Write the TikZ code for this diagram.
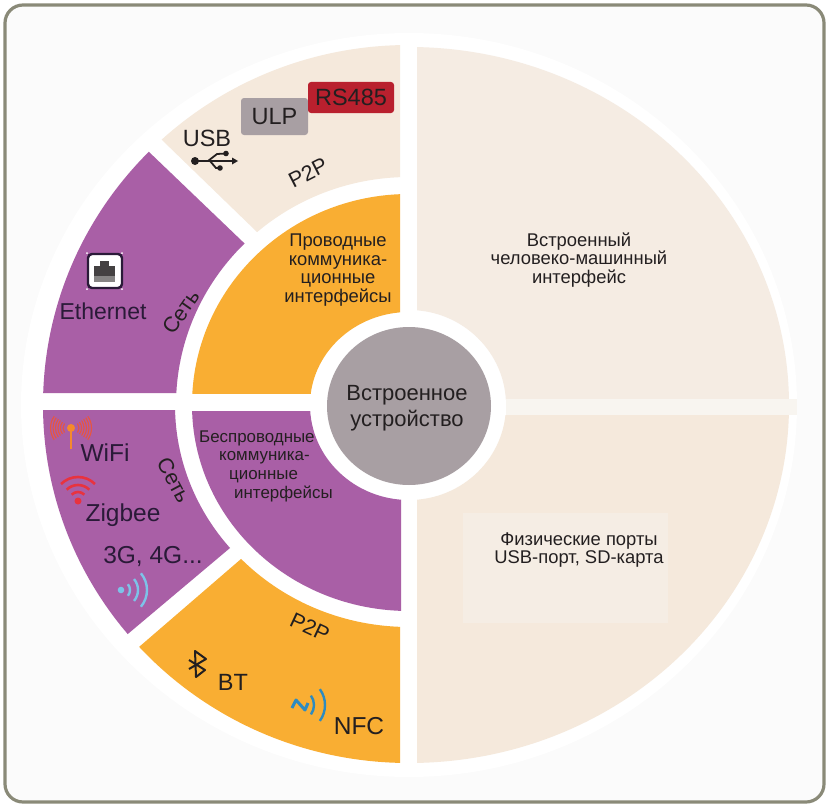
\documentclass[tikz,border=0pt]{standalone}
\usepackage{fontspec}
\setmainfont{Liberation Sans}
\definecolor{cpanel}{HTML}{FBFBFB}
\definecolor{cborder}{HTML}{8A8A78}
\definecolor{cbeige}{HTML}{F5E9DC}
\definecolor{cbeigelight}{HTML}{F5ECE3}
\definecolor{cboxlight}{HTML}{F5EDE4}
\definecolor{cgap}{HTML}{F8F5F0}
\definecolor{cpurple}{HTML}{A95FA6}
\definecolor{corange}{HTML}{F9AE33}
\definecolor{cgrey}{HTML}{A89FA3}
\definecolor{cred}{HTML}{B9202E}
\definecolor{cink}{HTML}{231F20}
\definecolor{cinkpurple}{HTML}{2A1A38}
\definecolor{cantenna}{HTML}{F58A2C}
\definecolor{cearred}{HTML}{E8553F}
\definecolor{czigbee}{HTML}{E8333F}
\definecolor{csky}{HTML}{7DC3E8}
\definecolor{cnfc}{HTML}{2E8BC0}
\tikzset{
  label18/.style={font=\fontsize{18.4}{18.5}\selectfont, align=center, text=cink, inner sep=0pt},
  label16/.style={font=\fontsize{16.9}{18.7}\selectfont, align=left, text=cink, inner sep=0pt},
  label22/.style={font=\fontsize{22}{26}\selectfont, align=center, text=cink, inner sep=0pt},
  label23/.style={font=\fontsize{23.5}{26}\selectfont, text=cink, inner sep=0pt},
  slanted/.style={font=\fontsize{21.5}{24}\selectfont, text=cink, inner sep=0pt},
  netlabel/.style={font=\fontsize{24.5}{26}\selectfont, text=cinkpurple, inner sep=0pt},
  tagbox/.style={rounded corners=3pt, inner sep=0pt, font=\fontsize{23.5}{26}\selectfont, text=cink},
}
% one piece of a ring, cut out by a polygon
\newcommand{\ringpart}[6]{%
  \begin{scope}
    \clip #6;
    \fill[#1, even odd rule] (409,405) ellipse [x radius=#2pt, y radius=#3pt]
      (409,405) ellipse [x radius=#4pt, y radius=#5pt];
  \end{scope}}

\begin{document}
\begin{tikzpicture}[x=1pt, y=-1pt]
  \useasboundingbox (0,0) rectangle (830,808);
  % panel and white disc
  \draw[draw=cborder, fill=cpanel, line width=3.2pt, rounded corners=18pt] (5,5) rectangle (824,802);
  \fill[white] (409,405) ellipse [x radius=388pt, y radius=372pt];
  % right half
  \ringpart{cbeigelight}{380}{358}{97}{95}{(417,40) rectangle (800,399)}
  \ringpart{cbeige}{380}{358}{97}{95}{(417,415) rectangle (800,770)}
  \fill[cgap] (506,399) rectangle (797,415);
  \node[fill=cboxlight, minimum width=205pt, minimum height=110pt, inner sep=0pt] (portbox) at (565.5,568) {};
  % outer ring, left half
  \ringpart{cbeige}{366}{360}{233}{228}{(100,100) -- (162,140) -- (257,232) -- (330,300) -- (400,300) -- (400,30) -- (100,30) -- cycle}
  \ringpart{cpurple}{366}{360}{233}{228}{(100,105) -- (30,105) -- (30,393) -- (290,393) -- (290,287) -- cycle}
  \ringpart{cpurple}{366}{358}{234}{222}{(30,410) -- (30,720) -- (40,709) -- (129,633) -- (230,548) -- (300,490) -- (300,410) -- cycle}
  \ringpart{corange}{366}{358}{233}{222}{(50,722) -- (139,647) -- (241,559) -- (300,510) -- (400,510) -- (400,780) -- (50,780) -- cycle}
  % middle ring, left half
  \ringpart{corange}{217}{211}{99}{93}{(180,180) rectangle (400,393)}
  \ringpart{cpurple}{217}{206}{99}{95}{(180,411) rectangle (401,620)}
  % centre
  \fill[cgrey] (409,406) ellipse [x radius=82pt, y radius=79pt];
  \node[label22] (device) at (407,408) {Встроенное\\устройство};
  % labels on the right
  \node[label18] (hmi) at (579,260) {Встроенный\\человеко-машинный\\интерфейс};
  \node[label18] (ports) at (579,550) {Физические порты\\USB-порт, SD-карта};
  % middle ring labels
  \node[label18] (wired) at (338,270) {Проводные\\коммуника-\\ционные\\интерфейсы};
  \node[label16, anchor=west] (wireless) at (199,466) {Беспроводные\\\hspace*{20pt}коммуника-\\\hspace*{30pt}ционные\\\hspace*{35pt}интерфейсы};
  % wired group
  \node[tagbox, fill=cgrey, minimum width=67pt, minimum height=37pt] (ulp) at (274.5,116.5) {ULP};
  \node[tagbox, fill=cred, minimum width=86pt, minimum height=31pt] (rs) at (351,97.5) {RS485};
  \node[label23] (usb) at (207,138) {USB};
  \node[slanted, rotate=27] (ptop) at (308,173) {P2P};
  \node[slanted, rotate=55] (nettop) at (181,312) {Сеть};
  \node[netlabel, font=\fontsize{23}{26}\selectfont] (ethernet) at (103,311) {Ethernet};
  % wireless group
  \node[netlabel] (wifi) at (105,453) {WiFi};
  \node[netlabel] (zigbee) at (123,515) {Zigbee};
  \node[netlabel] (cell) at (153,557) {3G, 4G...};
  \node[slanted, rotate=-62] (netlow) at (174,480) {Сеть};
  \node[slanted, rotate=-25] (plow) at (310,627) {P2P};
  \node[label23] (bt) at (233,682) {BT};
  \node[label23, font=\fontsize{24.5}{26}\selectfont] (nfc) at (359,726) {NFC};
  % usb symbol
  \begin{scope}[cink, line width=1.8pt]
    \fill (195,161) circle [radius=4pt];
    \draw (195,161) -- (232,161);
    \fill (232,157.5) -- (238,161) -- (232,164.5) -- cycle;
    \draw (208,161) -- (217,154) -- (226,153.5);
    \fill (226,153.5) circle [radius=2.8pt];
    \draw (210,161) -- (216,168) -- (220,168);
    \fill (220,168) circle [radius=2.8pt];
  \end{scope}
  % ethernet socket
  \draw[draw=cinkpurple, fill=white, line width=2.4pt, rounded corners=4pt] (88,254) rectangle (122,288);
  \fill[cink!85] (94,266) rectangle (115,276);
  \fill[cink!85] (100,261) rectangle (109,266);
  \fill[cink!55] (94,276) rectangle (115,282);
  \foreach \cx/\cy in {87/253, 122/253, 87/289, 122/289}
    \fill[white] (\cx,\cy) circle [radius=1pt];
  % wifi antenna
  \begin{scope}[shift={(71,428)}, y=1pt]
    \draw[cantenna, line width=2.6pt] (0,0) -- (0,-21);
    \fill[cantenna] (0,0) circle [radius=4pt];
    \foreach \r in {8,10.5,13,15.5,18,20.5} {
      \draw[cearred, line width=1.1pt] (145:\r) arc [start angle=145, end angle=215, radius=\r pt];
      \draw[cearred, line width=1.1pt] (-35:\r) arc [start angle=-35, end angle=35, radius=\r pt];
    }
  \end{scope}
  % zigbee waves
  \begin{scope}[shift={(78,501)}, y=1pt, czigbee, line width=2.6pt]
    \fill (0,0) circle [radius=3.5pt];
    \foreach \r in {9,16,24}
      \draw (45:\r) arc [start angle=45, end angle=135, radius=\r pt];
  \end{scope}
  % cellular waves
  \begin{scope}[shift={(121,590)}, y=1pt, csky, line width=2.4pt]
    \fill (0,0) circle [radius=3.3pt];
    \foreach \r in {9,17,26}
      \draw (-40:\r) arc [start angle=-40, end angle=40, radius=\r pt];
  \end{scope}
  % bluetooth
  \draw[cink, line width=2pt, line join=round] (189,660) -- (205,670) -- (196,677) -- (195,651) -- (206,659) -- (189,669);
  % nfc
  \draw[cnfc, line width=3pt, line join=round] (292,708) -- (296,700) -- (305,710) -- (308,703);
  \begin{scope}[shift={(298,705)}, y=1pt, cnfc, line width=2.4pt]
    \foreach \r in {16,27}
      \draw (-36:\r) arc [start angle=-36, end angle=36, radius=\r pt];
  \end{scope}
\end{tikzpicture}
\end{document}
